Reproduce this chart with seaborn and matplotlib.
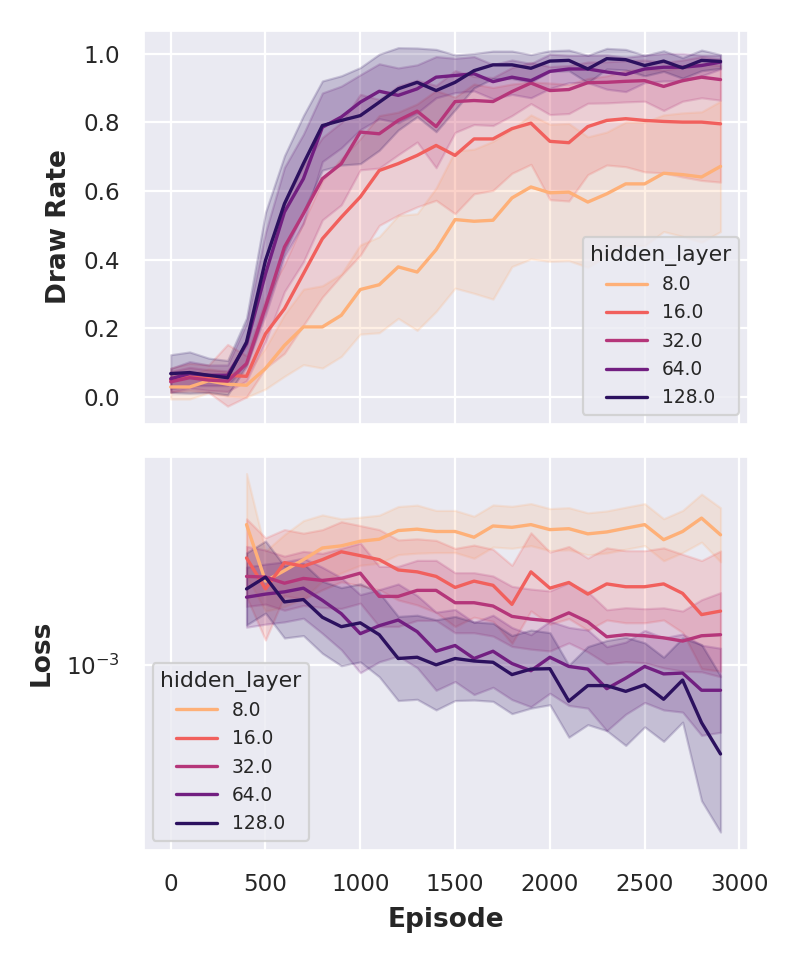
import numpy as np
import pandas as pd
import matplotlib
matplotlib.use("Agg")
import matplotlib.pyplot as plt
import seaborn as sns

# hidden layer sizes (legend labels)
hidden_layers = ["8.0", "16.0", "32.0", "64.0", "128.0"]

# episodes for draw rate (top) and loss (bottom)
episodes = [0, 100, 200, 300, 400, 500, 600, 700, 800, 900, 1000, 1100, 1200, 1300, 1400,
            1500, 1600, 1700, 1800, 1900, 2000, 2100, 2200, 2300, 2400, 2500, 2600, 2700, 2800, 2900]
loss_episodes = [400, 500, 600, 700, 800, 900, 1000, 1100, 1200, 1300, 1400,
                 1500, 1600, 1700, 1800, 1900, 2000, 2100, 2200, 2300, 2400, 2500, 2600, 2700, 2800, 2900]

# draw rate means
draw_8 = [0.029, 0.029, 0.047, 0.037, 0.034, 0.083, 0.15, 0.204, 0.204, 0.238, 0.313, 0.327, 0.379, 0.364, 0.429,
          0.517, 0.512, 0.515, 0.58, 0.612, 0.595, 0.597, 0.568, 0.592, 0.621, 0.621, 0.652, 0.648, 0.641, 0.672]
draw_16 = [0.049, 0.058, 0.053, 0.063, 0.06, 0.184, 0.257, 0.359, 0.461, 0.524, 0.583, 0.66, 0.68, 0.704, 0.733,
           0.704, 0.752, 0.752, 0.782, 0.798, 0.745, 0.741, 0.788, 0.806, 0.811, 0.806, 0.803, 0.801, 0.801, 0.796]
draw_32 = [0.044, 0.056, 0.049, 0.046, 0.097, 0.262, 0.437, 0.534, 0.636, 0.68, 0.772, 0.767, 0.806, 0.833, 0.788,
           0.861, 0.864, 0.861, 0.89, 0.915, 0.893, 0.896, 0.916, 0.917, 0.92, 0.922, 0.905, 0.922, 0.932, 0.925]
draw_64 = [0.053, 0.068, 0.063, 0.063, 0.155, 0.359, 0.539, 0.636, 0.786, 0.816, 0.859, 0.891, 0.879, 0.898, 0.932,
           0.937, 0.942, 0.919, 0.932, 0.922, 0.949, 0.956, 0.956, 0.947, 0.94, 0.956, 0.961, 0.961, 0.966, 0.976]
draw_128 = [0.068, 0.071, 0.063, 0.056, 0.16, 0.398, 0.563, 0.68, 0.791, 0.806, 0.82, 0.859, 0.898, 0.917, 0.893,
            0.917, 0.951, 0.968, 0.968, 0.958, 0.979, 0.981, 0.956, 0.986, 0.983, 0.966, 0.979, 0.959, 0.981, 0.978]

# draw rate band half widths
draw_err_8 = [0.035, 0.035, 0.035, 0.035, 0.035, 0.06, 0.09, 0.11, 0.12, 0.12, 0.13, 0.14, 0.15, 0.17, 0.18,
              0.2, 0.21, 0.23, 0.2, 0.21, 0.2, 0.2, 0.19, 0.18, 0.18, 0.18, 0.17, 0.18, 0.19, 0.19]
draw_err_16 = [0.035, 0.04, 0.04, 0.09, 0.06, 0.1, 0.13, 0.15, 0.17, 0.17, 0.17, 0.16, 0.15, 0.15, 0.16,
               0.17, 0.16, 0.15, 0.13, 0.12, 0.17, 0.17, 0.14, 0.13, 0.14, 0.15, 0.15, 0.16, 0.17, 0.17]
draw_err_32 = [0.03, 0.03, 0.03, 0.03, 0.05, 0.1, 0.13, 0.14, 0.12, 0.12, 0.11, 0.1, 0.1, 0.09, 0.12,
               0.09, 0.07, 0.07, 0.07, 0.06, 0.07, 0.07, 0.06, 0.06, 0.06, 0.06, 0.07, 0.06, 0.06, 0.06]
draw_err_64 = [0.03, 0.035, 0.03, 0.03, 0.06, 0.12, 0.13, 0.13, 0.1, 0.09, 0.08, 0.08, 0.08, 0.07, 0.06,
               0.05, 0.05, 0.05, 0.05, 0.05, 0.05, 0.04, 0.04, 0.05, 0.05, 0.04, 0.04, 0.04, 0.03, 0.02]
draw_err_128 = [0.055, 0.06, 0.05, 0.05, 0.07, 0.14, 0.14, 0.14, 0.13, 0.13, 0.14, 0.14, 0.12, 0.1, 0.12,
                0.08, 0.05, 0.04, 0.04, 0.04, 0.03, 0.03, 0.04, 0.03, 0.03, 0.03, 0.03, 0.03, 0.03, 0.02]

# loss means (in units of 1e-3)
loss_8 = [2.93, 1.90, 2.06, 2.24, 2.45, 2.49, 2.58, 2.62, 2.80, 2.83, 2.78, 2.78, 2.66,
          2.90, 2.87, 2.93, 2.82, 2.84, 2.73, 2.77, 2.85, 2.93, 2.61, 2.78, 3.08, 2.71]
loss_16 = [2.27, 1.79, 2.19, 2.13, 2.24, 2.38, 2.31, 2.24, 2.07, 2.04, 1.97, 1.81, 1.90,
           1.84, 1.59, 2.04, 1.80, 1.88, 1.72, 1.86, 1.82, 1.82, 1.86, 1.73, 1.47, 1.51]
loss_32 = [1.97, 1.96, 1.87, 1.94, 1.91, 1.94, 2.02, 1.69, 1.69, 1.77, 1.77, 1.61, 1.61,
           1.57, 1.45, 1.42, 1.40, 1.49, 1.39, 1.24, 1.26, 1.25, 1.23, 1.20, 1.25, 1.26]
loss_64 = [1.68, 1.72, 1.75, 1.80, 1.64, 1.48, 1.27, 1.35, 1.41, 1.29, 1.11, 1.16, 1.05,
           1.11, 1.01, 0.956, 1.06, 0.988, 0.968, 0.833, 0.903, 0.988, 0.933, 0.939, 0.823, 0.823]
loss_128 = [1.79, 1.96, 1.62, 1.65, 1.44, 1.34, 1.38, 1.26, 1.05, 1.06, 1.00, 1.05, 1.03,
            1.02, 0.928, 0.968, 0.971, 0.757, 0.853, 0.853, 0.816, 0.858, 0.768, 0.890, 0.642, 0.505]

# loss band half widths (decades, log scale)
loss_spread_8 = [0.17, 0.1, 0.12, 0.13, 0.11, 0.09, 0.08, 0.08, 0.08, 0.08, 0.07, 0.07, 0.07,
                 0.07, 0.07, 0.07, 0.07, 0.07, 0.07, 0.07, 0.07, 0.07, 0.07, 0.07, 0.08, 0.09]
loss_spread_16 = [0.13, 0.17, 0.11, 0.11, 0.1, 0.1, 0.1, 0.1, 0.1, 0.11, 0.12, 0.13, 0.12,
                  0.12, 0.13, 0.13, 0.12, 0.12, 0.12, 0.12, 0.12, 0.12, 0.12, 0.13, 0.18, 0.2]
loss_spread_32 = [0.1, 0.09, 0.09, 0.09, 0.09, 0.1, 0.1, 0.1, 0.1, 0.1, 0.1, 0.1, 0.1,
                  0.1, 0.1, 0.1, 0.1, 0.1, 0.1, 0.09, 0.09, 0.09, 0.1, 0.1, 0.12, 0.14]
loss_spread_64 = [0.1, 0.1, 0.1, 0.1, 0.11, 0.12, 0.13, 0.12, 0.12, 0.12, 0.13, 0.12, 0.12,
                  0.12, 0.12, 0.12, 0.12, 0.13, 0.13, 0.14, 0.12, 0.12, 0.12, 0.13, 0.15, 0.14]
loss_spread_128 = [0.12, 0.12, 0.12, 0.12, 0.12, 0.13, 0.13, 0.14, 0.14, 0.14, 0.15, 0.14, 0.13,
                   0.13, 0.13, 0.13, 0.12, 0.12, 0.13, 0.15, 0.18, 0.14, 0.14, 0.14, 0.26, 0.26]

draw_means = [draw_8, draw_16, draw_32, draw_64, draw_128]
draw_errs = [draw_err_8, draw_err_16, draw_err_32, draw_err_64, draw_err_128]
loss_means = [loss_8, loss_16, loss_32, loss_64, loss_128]
loss_spreads = [loss_spread_8, loss_spread_16, loss_spread_32, loss_spread_64, loss_spread_128]

# long tables for seaborn
draw_df = pd.concat([pd.DataFrame({"Episode": episodes, "Draw Rate": m, "err": e, "hidden_layer": h})
                     for h, m, e in zip(hidden_layers, draw_means, draw_errs)], ignore_index=True)
loss_df = pd.concat([pd.DataFrame({"Episode": loss_episodes, "Loss": np.array(m) * 1e-3, "spread": s,
                                   "hidden_layer": h})
                     for h, m, s in zip(hidden_layers, loss_means, loss_spreads)], ignore_index=True)

sns.set_theme(context="paper", style="darkgrid")
plt.rcParams["font.family"] = ["DejaVu Sans"]
plt.rcParams["xtick.labelsize"] = 8.3
plt.rcParams["ytick.labelsize"] = 8.3

palette = sns.color_palette("magma_r", len(hidden_layers))

fig, (ax1, ax2) = plt.subplots(2, 1, figsize=(4, 4.8), dpi=200, sharex=True)
fig.subplots_adjust(left=0.179, right=0.935, top=0.969, bottom=0.1146, hspace=0.08)

ax2.set_yscale("log")

sns.lineplot(data=draw_df, x="Episode", y="Draw Rate", hue="hidden_layer", hue_order=hidden_layers,
             palette=palette, errorbar=None, ax=ax1)
sns.lineplot(data=loss_df, x="Episode", y="Loss", hue="hidden_layer", hue_order=hidden_layers,
             palette=palette, errorbar=None, ax=ax2)

for h, c in zip(hidden_layers, palette):
    d = draw_df[draw_df["hidden_layer"] == h]
    ax1.fill_between(d["Episode"], d["Draw Rate"] - d["err"], d["Draw Rate"] + d["err"],
                     color=c, alpha=0.2)
    l = loss_df[loss_df["hidden_layer"] == h]
    ax2.fill_between(l["Episode"], l["Loss"] / 10 ** l["spread"], l["Loss"] * 10 ** l["spread"],
                     color=c, alpha=0.2)

ax1.set_xlabel("")
ax1.set_ylabel("Draw Rate", fontsize=9.5, fontweight="bold")
ax2.set_ylabel("Loss", fontsize=9.5, fontweight="bold")
ax2.set_xlabel("Episode", fontsize=9.5, fontweight="bold")
ax1.set_yticks([0.0, 0.2, 0.4, 0.6, 0.8, 1.0])

ax1.legend(title="hidden_layer", loc="lower right", fontsize=6.7, title_fontsize=7.9, handlelength=2.2)
ax2.legend(title="hidden_layer", loc="lower left", fontsize=6.7, title_fontsize=7.9, handlelength=2.2)

plt.savefig("out.png", dpi=200)
